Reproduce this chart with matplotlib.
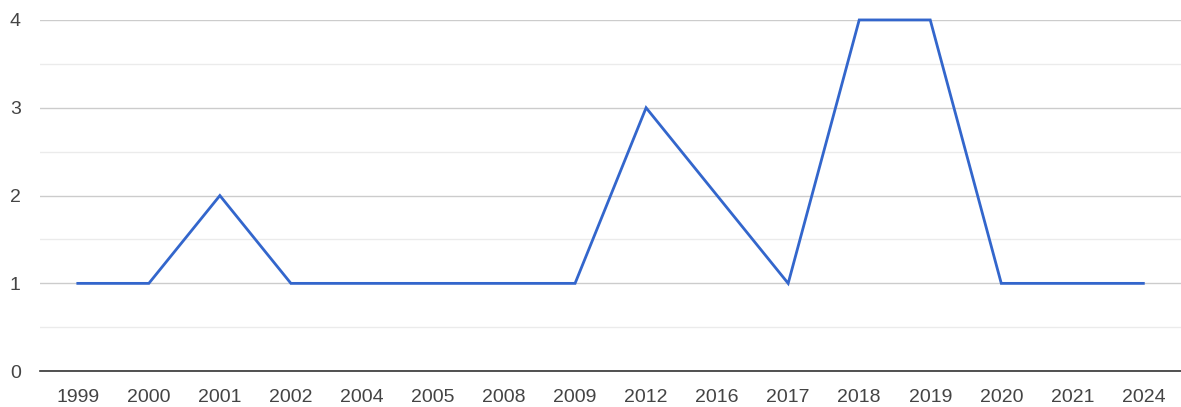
import matplotlib.pyplot as plt
import numpy as np

# data
years = ['1999', '2000', '2001', '2002', '2004', '2005', '2008', '2009',
         '2012', '2016', '2017', '2018', '2019', '2020', '2021', '2024']
counts = [1, 1, 2, 1, 1, 1, 1, 1, 3, 2, 1, 4, 4, 1, 1, 1]
yticks = [0, 1, 2, 3, 4]

plt.rcParams['font.family'] = ['Liberation Sans', 'DejaVu Sans']

fig = plt.figure(figsize=(11.81, 4.07), dpi=100)
ax = fig.add_axes([0.034, 0.088, 0.966, 0.863])

x = np.arange(len(years))
ax.plot(x, counts, color='#3366cc', lw=2.0, solid_joinstyle='miter', clip_on=False, zorder=4)

ax.set_xlim(-0.53, len(years) - 0.47)
ax.set_ylim(0, 4)

ax.set_xticks(x)
ax.set_xticklabels(years)
ax.set_yticks(yticks)
ax.set_yticks(np.arange(0.5, 4, 1), minor=True)

ax.tick_params(axis='both', which='both', length=0, labelsize=14, colors='#444444')
ax.tick_params(axis='x', pad=13)
ax.tick_params(axis='y', pad=14)

# gridlines
ax.grid(axis='y', which='major', color='#cccccc', lw=1)
ax.grid(axis='y', which='minor', color='#ebebeb', lw=1)
ax.set_axisbelow(True)

for side in ['top', 'right', 'left']:
    ax.spines[side].set_visible(False)
ax.spines['bottom'].set_color('#333333')
ax.spines['bottom'].set_linewidth(1.2)
ax.spines['bottom'].set_zorder(3)

plt.savefig('out.png', dpi=100)
plt.close()
